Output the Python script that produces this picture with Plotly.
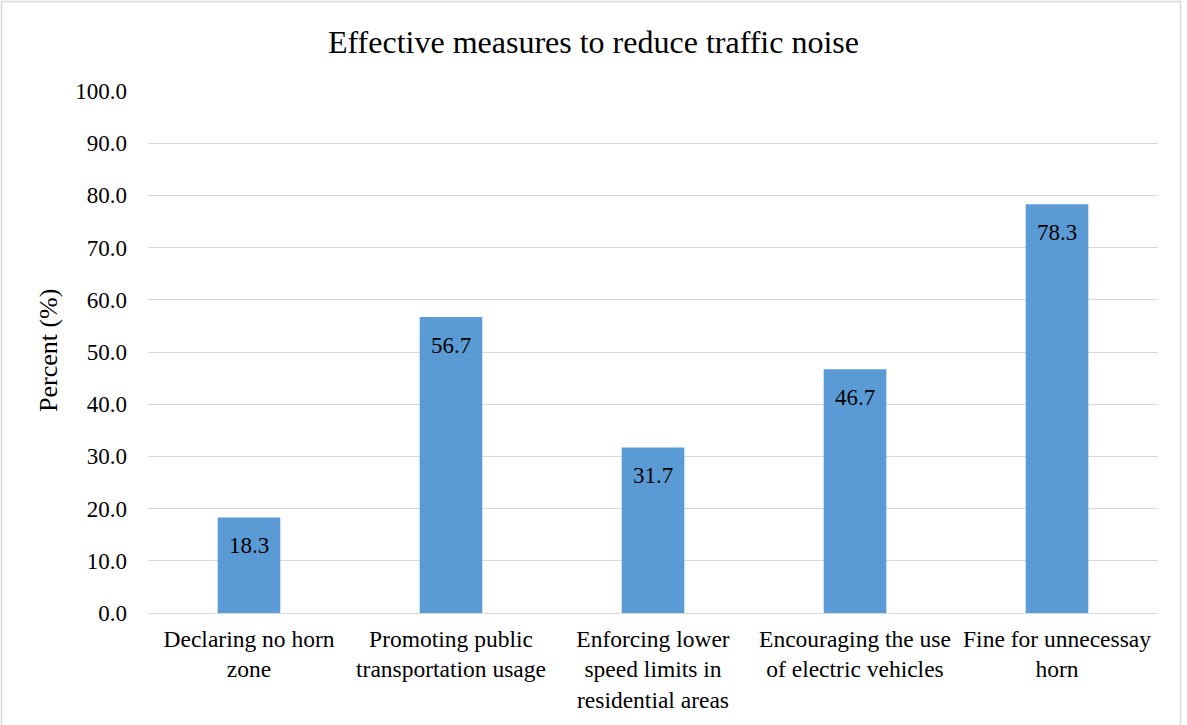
import plotly.graph_objects as go

categories = [
    "Declaring no horn<br>zone",
    "Promoting public<br>transportation usage",
    "Enforcing lower<br>speed limits in<br>residential areas",
    "Encouraging the use<br>of electric vehicles",
    "Fine for unnecessay<br>horn",
]
percent = [18.3, 56.7, 31.7, 46.7, 78.3]
y_ticks = [0, 10, 20, 30, 40, 50, 60, 70, 80, 90, 100]

W, H = 1187, 725
L, R, T, B = 148, 29, 91, 112
pw, ph = W - L - R, H - T - B

serif = "Liberation Serif, Times New Roman, serif"

fig = go.Figure(
    go.Bar(
        x=categories,
        y=percent,
        marker=dict(color="#5B9BD5", line=dict(width=0)),
        width=0.31,
        cliponaxis=False,
    )
)

# value labels placed just inside the top of each bar
value_labels = [
    dict(
        x=c,
        y=v,
        xref="x",
        yref="y",
        text=f"{v:.1f}",
        showarrow=False,
        xanchor="center",
        yanchor="middle",
        yshift=-28,
        font=dict(family=serif, size=23, color="#000000"),
    )
    for c, v in zip(categories, percent)
]

fig.update_layout(
    width=W,
    height=H,
    margin=dict(l=L, r=R, t=T, b=B, autoexpand=False),
    paper_bgcolor="white",
    plot_bgcolor="white",
    showlegend=False,
    font=dict(family=serif, size=23, color="#000000"),
    title=dict(
        text="Effective measures to reduce traffic noise",
        x=0.5,
        xref="container",
        xanchor="center",
        y=1 - 42 / H,
        yref="container",
        yanchor="middle",
        font=dict(family=serif, size=32, color="#000000"),
    ),
    xaxis=dict(
        showgrid=False,
        showline=False,
        ticks="",
        tickfont=dict(family=serif, size=23.5),
        ticklabelstandoff=9,
        fixedrange=True,
    ),
    yaxis=dict(
        range=[0, 100],
        tickvals=y_ticks,
        ticktext=[f"{v:.1f}" for v in y_ticks],
        showgrid=True,
        gridcolor="#D9D9D9",
        gridwidth=1.3,
        zeroline=True,
        zerolinecolor="#D9D9D9",
        zerolinewidth=1.3,
        showline=False,
        ticks="",
        ticklabelstandoff=20,
        tickfont=dict(family=serif, size=23),
        fixedrange=True,
    ),
    annotations=value_labels
    + [
        dict(
            text="Percent (%)",
            textangle=-90,
            x=(48 - L) / pw,
            y=(353 - T) / ph,
            xref="paper",
            yref="paper",
            xanchor="center",
            yanchor="middle",
            showarrow=False,
            font=dict(family=serif, size=26, color="#000000"),
        )
    ],
    shapes=[
        dict(
            type="rect",
            xref="paper",
            yref="paper",
            x0=(1.5 - L) / pw,
            x1=(1180.5 - L) / pw,
            y0=-(B + 5) / ph,
            y1=(H - 1.5 - B) / ph,
            line=dict(color="#D9D9D9", width=1.5),
            fillcolor="rgba(0,0,0,0)",
            layer="below",
        )
    ],
)

fig.write_html("out.html")
